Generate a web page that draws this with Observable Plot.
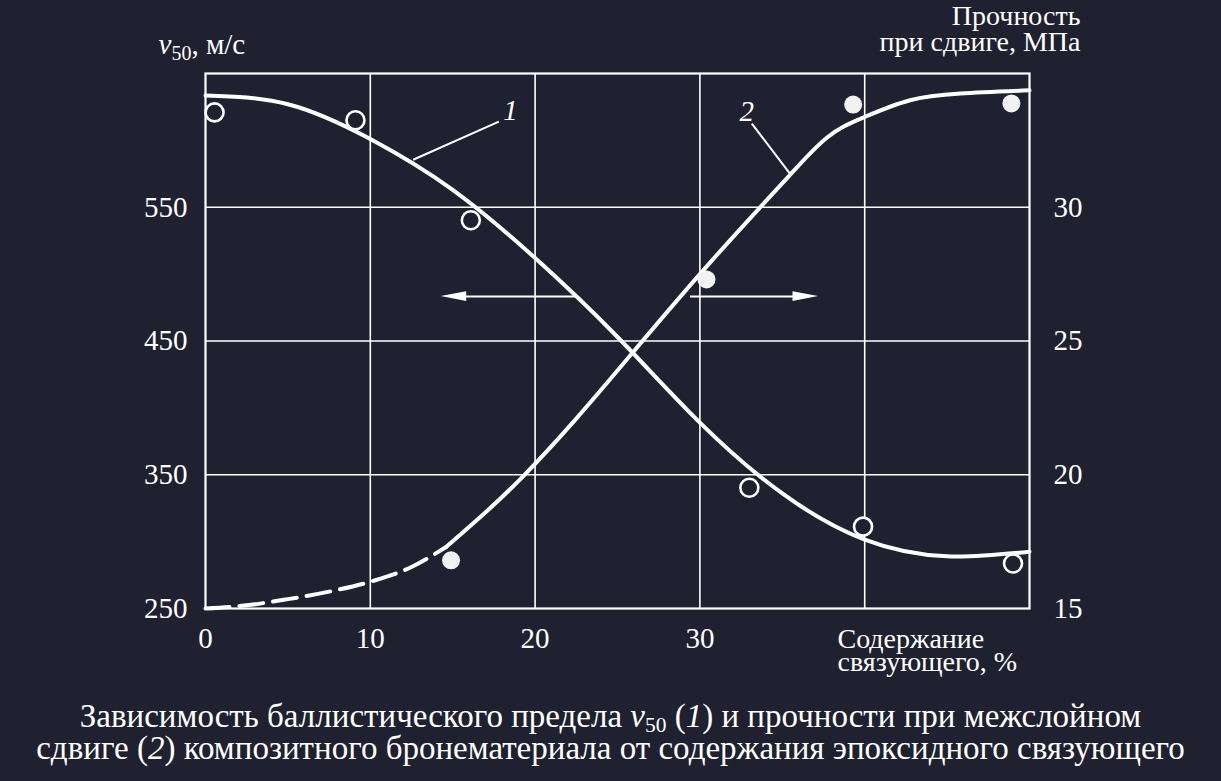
<!DOCTYPE html>
<html><head><meta charset="utf-8">
<script src="https://cdn.jsdelivr.net/npm/d3@7"></script>
<script src="https://cdn.jsdelivr.net/npm/@observablehq/plot@0.6"></script>
<style>
html,body{margin:0;padding:0;background:#1f2130;}
#chart{width:1221px;height:781px;position:relative;overflow:hidden;background:#1f2130;}
#caption{font-family:"Liberation Serif","Times New Roman",serif;font-size:33px;line-height:32px;color:#fff;text-align:center;padding-top:20px;white-space:nowrap;}
#caption sub{font-size:0.65em;vertical-align:-0.25em;line-height:0;}
</style></head><body><div id="chart"></div>
<script>
// ---- data ----
const xTicks = [0, 10, 20, 30];
const xGrid = [10, 20, 30, 40];
const leftTicks = [250, 350, 450, 550];
const leftGrid = [350, 450, 550];
const rightTicks = [15, 20, 25, 30];

// series 1: ballistic limit v50, m/s (open circles)
const pts1X = [0.55, 9.1, 16.1, 33.0, 39.9, 49.0];
const pts1V = [620.9, 615, 540.3, 340.3, 311.2, 283.6];
const curve1X = [0, 5, 10, 15, 20, 25, 30, 35, 40, 45, 50];
const curve1V = [633.6, 627, 601, 563, 512, 453, 389, 336, 301.5, 289, 292.5];

// series 2: interlaminar shear strength, MPa (filled dots)
const pts2X = [14.9, 30.4, 39.3, 48.9];
const pts2M = [16.8, 27.3, 33.84, 33.88];
const dash2X = [0, 2.5, 5, 7.5, 10, 12.5, 14.6];
const dash2M = [15.0, 15.12, 15.35, 15.63, 16.0, 16.55, 17.3];
const solid2X = [14.6, 17, 19.3, 22.5, 25.9, 30, 33.6, 35.5, 37.7, 39.9, 42.7, 45.8, 50];
const solid2M = [17.3, 18.6, 19.96, 22.1, 24.55, 27.5, 29.96, 31.23, 32.6, 33.35, 33.99, 34.25, 34.37];

// annotations
const curveLabels = ["1", "2"];
const labelX = [18.5, 32.85];
const labelV = [622.4, null];
const labelM = [null, 33.58];
const leader1 = {x1: 12.6, v1: 585.5, x2: 17.8, v2: 614};
const leader2 = {x1: 35.45, m1: 31.27, x2: 33.15, m2: 33.13};
const arrowV = 483.2;
const arrowFromX = [22.5, 29.4];
const arrowToX = [14.3, 37.2];
const headLenX = 1.55;   // arrow head length, in % units
const headHalfV = 3.6;   // arrow head half width, in m/s units

const leftTitle = "v50, м/с";
const rightTitle = "Прочность\nпри сдвиге, МПа";
const bottomTitle = "Содержание\nсвязующего, %";
const captionHTML = "Зависимость баллистического предела <i>v</i><sub>50</sub> (<i>1</i>) и прочности при межслойном<br>сдвиге (<i>2</i>) композитного бронематериала от содержания эпоксидного связующего";

// right axis (MPa) mapped onto left axis (m/s)
const m2v = m => 250 + (m - 15) * 20;
const v2m = v => 15 + (v - 250) / 20;

const W = "#ffffff";
const BG = "#1f2130";
const serif = "'Liberation Serif','Times New Roman',serif";

const c1 = curve1X.map((x, i) => ({x, y: curve1V[i]}));
const d2 = dash2X.map((x, i) => ({x, y: m2v(dash2M[i])}));
const s2 = solid2X.map((x, i) => ({x, y: m2v(solid2M[i])}));
const p1 = pts1X.map((x, i) => ({x, y: pts1V[i]}));
const p2 = pts2X.map((x, i) => ({x, y: m2v(pts2M[i])}));
const leaders = [
  {x1: leader1.x1, y1: leader1.v1, x2: leader1.x2, y2: leader1.v2},
  {x1: leader2.x1, y1: m2v(leader2.m1), x2: leader2.x2, y2: m2v(leader2.m2)}
];
const labels = curveLabels.map((t, i) => ({t, x: labelX[i], y: labelV[i] != null ? labelV[i] : m2v(labelM[i])}));
const shafts = arrowFromX.map((x, i) => {
  const dir = Math.sign(arrowToX[i] - x);
  return {x1: x, x2: arrowToX[i] - dir * headLenX * 0.8, y: arrowV};
});
const heads = arrowFromX.flatMap((x, i) => {
  const dir = Math.sign(arrowToX[i] - x);
  return [
    {id: i, x: arrowToX[i], y1: arrowV, y2: arrowV},
    {id: i, x: arrowToX[i] - dir * headLenX, y1: arrowV - headHalfV, y2: arrowV + headHalfV}
  ];
});

const plot = Plot.plot({
  width: 1221,
  height: 680,
  marginLeft: 205,
  marginRight: 192,
  marginTop: 73,
  marginBottom: 72,
  style: {background: "transparent", color: W, fontFamily: serif, fontSize: "29px", overflow: "visible"},
  x: {domain: [0, 50], label: null},
  y: {domain: [250, 650], label: null},
  marks: [
    Plot.gridX(xGrid, {stroke: W, strokeOpacity: 1, strokeWidth: 1.6}),
    Plot.gridY(leftGrid, {stroke: W, strokeOpacity: 1, strokeWidth: 1.6}),
    Plot.frame({stroke: W, strokeWidth: 2.2}),
    Plot.axisX({ticks: xTicks, tickSize: 0, tickPadding: 19, label: null, fill: W}),
    Plot.axisY({anchor: "left", ticks: leftTicks, tickSize: 0, tickPadding: 18, label: null, fill: W}),
    Plot.axisY({anchor: "right", ticks: rightTicks.map(m2v), tickFormat: v => String(v2m(v)), tickSize: 0, tickPadding: 24, label: null, fill: W}),
    Plot.line(c1, {x: "x", y: "y", stroke: W, strokeWidth: 4, curve: "natural"}),
    Plot.line(d2, {x: "x", y: "y", stroke: W, strokeWidth: 4, curve: "monotone-x", strokeDasharray: "24,10"}),
    Plot.line(s2, {x: "x", y: "y", stroke: W, strokeWidth: 4, curve: "natural"}),
    Plot.link(leaders, {x1: "x1", y1: "y1", x2: "x2", y2: "y2", stroke: W, strokeWidth: 2}),
    Plot.link(shafts, {x1: "x1", y1: "y", x2: "x2", y2: "y", stroke: W, strokeWidth: 2}),
    Plot.areaY(heads, {x: "x", y1: "y1", y2: "y2", z: "id", fill: W}),
    Plot.dot(p1, {x: "x", y: "y", r: 9, stroke: W, strokeWidth: 2.6, fill: BG}),
    Plot.dot(p2, {x: "x", y: "y", r: 9, fill: "#f2f2f2", stroke: "none"}),
    Plot.text(labels, {x: "x", y: "y", text: "t", fill: W, fontStyle: "italic", fontSize: 29}),
    Plot.text([leftTitle], {frameAnchor: "top-left", text: d => d, dx: -47, dy: -20, textAnchor: "start", lineAnchor: "bottom", fill: W, fontSize: 29}),
    Plot.text([rightTitle], {frameAnchor: "top-right", text: d => d, dx: 51, dy: -23, textAnchor: "end", lineAnchor: "bottom", lineHeight: 0.9, fill: W, fontSize: 28}),
    Plot.text([bottomTitle], {frameAnchor: "bottom-right", text: d => d, dx: -192, dy: 62, textAnchor: "start", lineAnchor: "bottom", lineHeight: 0.82, fill: W, fontSize: 28})
  ]
});

// subscript for v50 title
d3.select(plot).selectAll("text").filter(function () { return this.textContent === leftTitle; }).each(function () {
  const t = d3.select(this);
  t.text(null);
  t.append("tspan").attr("font-style", "italic").text("v");
  t.append("tspan").attr("font-size", "20px").attr("dy", 6).text("50");
  t.append("tspan").attr("dy", -6).text(", м/с");
});

const root = document.getElementById("chart");
root.appendChild(plot);
const cap = document.createElement("div");
cap.id = "caption";
cap.innerHTML = captionHTML;
root.appendChild(cap);
</script></body></html>
